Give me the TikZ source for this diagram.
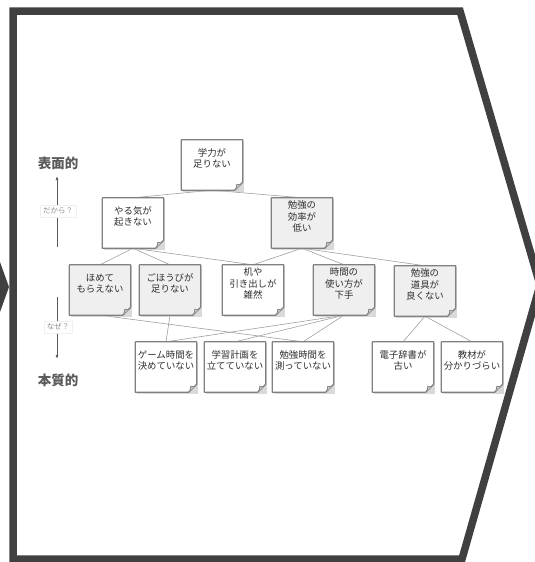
\documentclass[tikz,border=0pt]{standalone}
\usepackage{fontspec}
\setmainfont{Noto Sans CJK JP}
\usetikzlibrary{arrows.meta,calc}
\pgfdeclarelayer{bg}
\pgfsetlayers{bg,main}
\usepackage{xcolor}
\definecolor{framegray}{HTML}{404040}
\definecolor{notegray}{HTML}{EFEFEF}
\definecolor{noteline}{HTML}{808080}
\definecolor{linkgray}{HTML}{A0A0A0}
\definecolor{inkgray}{HTML}{2E2E2E}
\definecolor{axisgray}{HTML}{5A5A5A}

\begin{document}
\begin{tikzpicture}[
  x=1pt, y=-1pt,
  note/.style={minimum width=61pt, minimum height=50pt, inner sep=0pt,
    label={[notetext]center:#1}},
  notetext/.style={align=center, yshift=6.5pt, text=inkgray,
    font=\fontsize{9.4}{11.5}\selectfont},
  noteedge/.style={draw=noteline, line width=1.2pt, line join=round},
  link/.style={draw=linkgray, line width=0.6pt},
  axis/.style={-{Latex[length=4pt,width=3pt]}, draw=axisgray, line width=0.9pt},
  why/.style={fill=white, draw=black!6, inner sep=3pt, text=black!45,
    font=\fontsize{7.5}{8}\selectfont},
  level/.style={text=axisgray, font=\fontsize{13.5}{13.5}\bfseries\selectfont}
]

\useasboundingbox (0,0) rectangle (535,562);
\clip (0,0) rectangle (535,562);

% outer chevron frame
\draw[draw=framegray, line width=7.5pt, line join=miter]
  (13,11) -- (460,11) -- (540,285) -- (462,559) -- (13,559) -- cycle;
\fill[framegray] (0,262) -- (9,287) -- (0,312) -- cycle;

% axis
\node[level] (surf) at (58,163) {表面的};
\node[level] (core) at (58,380) {本質的};
\coordinate (uptop) at (57,176);
\coordinate (upbot) at (57,247);
\coordinate (dntop) at (57,297);
\coordinate (dnbot) at (57,359);
\draw[axis] (upbot) -- (uptop);
\draw[axis] (dntop) -- (dnbot);
\node[why] (dakara) at (58,211) {だから？};
\node[why] (naze) at (58,327) {なぜ？};

% notes
\node[note={学力が\\足りない}] (gaku) at (212,165) {};
\node[note={やる気が\\起きない}] (yaruki) at (133,223) {};
\node[note={勉強の\\効率が\\低い}] (kouritsu) at (302,223) {};
\node[note={ほめて\\もらえない}] (home) at (100,290) {};
\node[note={ごほうびが\\足りない}] (gohoubi) at (170,290) {};
\node[note={机や\\引き出しが\\雑然}] (tsukue) at (253,290) {};
\node[note={時間の\\使い方が\\下手}] (jikan) at (344,290) {};
\node[note={勉強の\\道具が\\良くない}] (dougu) at (425,291) {};
\node[note={ゲーム時間を\\決めていない}] (game) at (166,367) {};
\node[note={学習計画を\\立てていない}] (keikaku) at (235,367) {};
\node[note={勉強時間を\\測っていない}] (hakaru) at (303,367) {};
\node[note={電子辞書が\\古い}] (jisho) at (403,367) {};
\node[note={教材が\\分かりづらい}] (kyouzai) at (472,367) {};

\begin{pgfonlayer}{bg}
  % links
  \foreach \a/\b in {gaku/yaruki, gaku/kouritsu,
      yaruki/home, yaruki/gohoubi, yaruki/tsukue,
      kouritsu/tsukue, kouritsu/jikan, kouritsu/dougu,
      home/hakaru, gohoubi/game,
      jikan/game, jikan/keikaku, jikan/hakaru,
      dougu/jisho, dougu/kyouzai}
    \draw[link] (\a.south) -- (\b.north);

  % sticky note bodies with folded corner
  \foreach \n/\c in {gaku/white, yaruki/white, kouritsu/notegray,
      home/notegray, gohoubi/notegray, tsukue/white, jikan/notegray,
      dougu/notegray, game/white, keikaku/white, hakaru/white,
      jisho/white, kyouzai/white} {
    \coordinate (nw) at (\n.north west);
    \coordinate (se) at (\n.south east);
    \fill[black!25, opacity=0.6, transform canvas={xshift=1.5pt, yshift=-1.5pt}]
      (nw) -- (nw -| se) -- (se) -- (nw |- se) -- cycle;
    \draw[noteedge, fill=\c] (nw) -- (nw -| se) -- ($(se)+(0,-8)$)
      -- ($(se)+(-8,0)$) -- (nw |- se) -- cycle;
    \draw[draw=noteline, line width=0.7pt, fill=black!22]
      ($(se)+(0,-8)$) .. controls ($(se)+(-3,-5)$) .. ($(se)+(-6,-6)$)
      .. controls ($(se)+(-6,-3)$) .. ($(se)+(-8,0)$);
  }
\end{pgfonlayer}

\end{tikzpicture}
\end{document}
